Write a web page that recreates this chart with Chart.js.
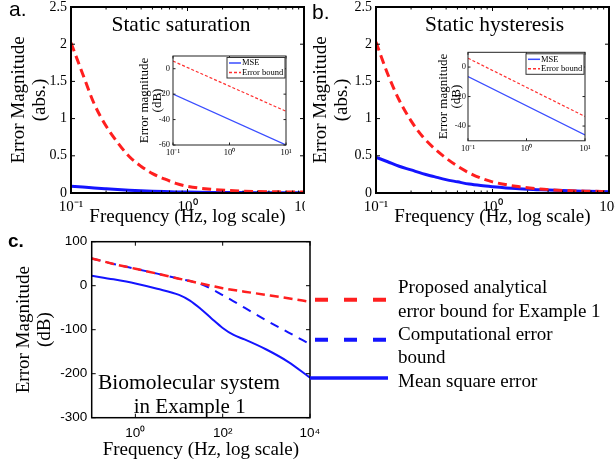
<!DOCTYPE html>
<html>
<head>
<meta charset="utf-8">
<script src="https://cdn.jsdelivr.net/npm/chart.js@4"></script>
<style>
body { margin: 0; background: #fff; }
#wrap { position: relative; width: 615px; height: 468px; overflow: hidden; background: #fff; }
canvas { position: absolute; }
</style>
</head>
<body>
<div id="wrap">
  <canvas id="cA" width="305" height="230" style="left:0;top:0"></canvas>
  <canvas id="cB" width="310" height="230" style="left:305px;top:0"></canvas>
  <canvas id="cAi" width="170" height="120" style="left:128px;top:48px"></canvas>
  <canvas id="cBi" width="175" height="120" style="left:422px;top:45px"></canvas>
  <canvas id="cC" width="615" height="243" style="left:0;top:225px"></canvas>
</div>
<script>
const SERIF = "'Liberation Serif', 'Times New Roman', serif";
const SANS = "'Liberation Sans', Arial, sans-serif";

// panels a & b : frequency (Hz) and error magnitude (abs.)
const freqAB = [0.1, 0.126, 0.158, 0.2, 0.251, 0.316, 0.398, 0.501, 0.631, 0.794, 1, 1.585, 2.512, 3.981, 6.31, 10];
const satBound = [2.02, 1.6, 1.2, 0.9, 0.68, 0.49, 0.36, 0.26, 0.19, 0.13, 0.09, 0.05, 0.03, 0.02, 0.015, 0.012];
const satMse = [0.09, 0.08, 0.068, 0.057, 0.047, 0.038, 0.03, 0.024, 0.019, 0.015, 0.012, 0.008, 0.006, 0.004, 0.003, 0.002];
const hysBound = [2.03, 1.6, 1.25, 0.97, 0.76, 0.6, 0.47, 0.36, 0.27, 0.2, 0.15, 0.09, 0.055, 0.035, 0.025, 0.018];
const hysMse = [0.48, 0.42, 0.36, 0.31, 0.26, 0.22, 0.18, 0.15, 0.12, 0.1, 0.085, 0.06, 0.045, 0.032, 0.024, 0.018];

// insets (dB)
const freqInset = [0.1, 10];
const satMseDb = [-20, -60];
const satBoundDb = [6, -33.5];
const hysMseDb = [-6.5, -46];
const hysBoundDb = [6, -33.5];

// panel c (dB)
const freqC = [0.1, 0.316, 1, 3.16, 10, 17.8, 31.6, 56.2, 100, 178, 316, 1000, 3162, 10000];
const analyticBoundC = [62, 49.5, 38.5, 27.4, 16, 10.5, 5, -0.5, -5.8, -9.7, -13.5, -21, -28.6, -36.5];
const compBoundC = [62, 49.5, 38.5, 27.4, 16, 10.5, 4, -7.5, -21.5, -35.5, -50, -79, -106, -133];
const mseC = [22.7, 14.5, 5, -7, -21, -34, -53, -75, -96, -112, -122, -145, -173, -209];

const legendC = ['Proposed analytical', 'error bound for Example 1', 'Computational error', 'bound', 'Mean square error'];
const expLabels = { 0.1: '10⁻¹', 1: '10⁰', 10: '10¹', 100: '10²', 10000: '10⁴' };

const RED = '#ff1f1f';
const BLUE = '#1414ff';

function pts(xs, ys) {
    return xs.map((x, i) => ({ x: x, y: ys[i] }));
}

// white plot area + matlab style box with inward ticks
function boxPlugin(o) {
    return {
        id: 'box',
        beforeDraw(chart) {
            const a = chart.chartArea, c = chart.ctx;
            c.save();
            c.fillStyle = '#fff';
            c.fillRect(a.left, a.top, a.right - a.left, a.bottom - a.top);
            c.restore();
        },
        afterDraw(chart) {
            const a = chart.chartArea, c = chart.ctx;
            const xs = chart.scales.x, ys = chart.scales.y;
            c.save();
            c.strokeStyle = o.color;
            c.lineWidth = 1;
            c.beginPath();
            ys.ticks.forEach(t => {
                const py = ys.getPixelForValue(t.value);
                c.moveTo(a.left, py); c.lineTo(a.left + o.tick, py);
                c.moveTo(a.right, py); c.lineTo(a.right - o.tick, py);
            });
            xs.ticks.forEach(t => {
                const px = xs.getPixelForValue(t.value);
                c.moveTo(px, a.bottom); c.lineTo(px, a.bottom - o.tick);
                c.moveTo(px, a.top); c.lineTo(px, a.top + o.tick);
            });
            if (o.minor) {
                for (let d = Math.log10(xs.min); d < Math.log10(xs.max); d++) {
                    for (let k = 2; k < 10; k++) {
                        const px = xs.getPixelForValue(k * Math.pow(10, d));
                        c.moveTo(px, a.bottom); c.lineTo(px, a.bottom - o.minor);
                        c.moveTo(px, a.top); c.lineTo(px, a.top + o.minor);
                    }
                }
            }
            c.stroke();
            c.lineWidth = o.width;
            c.strokeRect(a.left, a.top, a.right - a.left, a.bottom - a.top);
            c.restore();
        }
    };
}

function textPlugin(items) {
    return {
        id: 'texts',
        afterDraw(chart) {
            const c = chart.ctx;
            c.save();
            c.fillStyle = '#000';
            c.textBaseline = 'alphabetic';
            items.forEach(t => {
                c.font = t.font;
                c.textAlign = t.align || 'left';
                c.fillText(t.text, t.x, t.y);
            });
            c.restore();
        }
    };
}

const insetLegend = {
    id: 'insetLegend',
    afterDraw(chart) {
        const a = chart.chartArea, c = chart.ctx;
        const w = 58, h = 20.5, l = a.right - 1 - w, t = a.top + 1.5;
        c.save();
        c.fillStyle = '#fff';
        c.fillRect(l, t, w, h);
        c.strokeStyle = '#333';
        c.lineWidth = 1;
        c.strokeRect(l, t, w, h);
        c.font = '8.5px ' + SERIF;
        c.textBaseline = 'middle';
        chart.data.datasets.forEach((ds, i) => {
            const ry = t + 5.5 + i * 9.5;
            c.strokeStyle = ds.borderColor;
            c.lineWidth = 1.5;
            c.setLineDash(ds.borderDash || []);
            c.beginPath(); c.moveTo(l + 2, ry); c.lineTo(l + 14, ry); c.stroke();
            c.setLineDash([]);
            c.fillStyle = '#000';
            c.fillText(ds.label, l + 15, ry);
        });
        c.restore();
    }
};

// legend of panel c, drawn to the right of the plot
const legendCPlugin = {
    id: 'legendC',
    afterDraw(chart) {
        const a = chart.chartArea, c = chart.ctx, ys = chart.scales.y;
        const samples = [
            { v: -32, color: RED, dash: [13, 16], w: 4, x0: 5 },
            { v: -123, color: BLUE, dash: [13, 16], w: 4, x0: 5 },
            { v: -210, color: BLUE, dash: [], w: 3.5, x0: 0 }
        ];
        c.save();
        samples.forEach(s => {
            const py = ys.getPixelForValue(s.v);
            c.strokeStyle = s.color;
            c.lineWidth = s.w;
            c.setLineDash(s.dash);
            c.beginPath(); c.moveTo(a.right + s.x0, py); c.lineTo(a.right + 78, py); c.stroke();
        });
        c.setLineDash([]);
        c.fillStyle = '#000';
        c.font = '19px ' + SERIF;
        c.textBaseline = 'alphabetic';
        legendC.forEach((txt, i) => c.fillText(txt, a.right + 88, a.top + 51.6 + i * 23.3));
        c.restore();
    }
};

function logX(ticks, size, pad, height, title) {
    const x = {
        type: 'logarithmic',
        min: ticks.min, max: ticks.max,
        grid: { display: false, drawTicks: false },
        border: { display: false },
        afterBuildTicks: s => { s.ticks = ticks.at.map(v => ({ value: v })); },
        afterFit: s => { s.height = height; s.paddingLeft = 0; s.paddingRight = 0; },
        ticks: { font: { family: ticks.family, size: size }, color: '#000', padding: pad, maxRotation: 0, autoSkip: false, callback: v => expLabels[v] }
    };
    if (title) x.title = title;
    return x;
}

function mainChart(id, bound, mse, extra) {
    return new Chart(document.getElementById(id), {
        type: 'line',
        data: {
            datasets: [
                { label: 'Error bound', data: pts(freqAB, bound), borderColor: RED, borderWidth: 3, borderDash: [9, 5], pointRadius: 0, cubicInterpolationMode: 'monotone' },
                { label: 'MSE', data: pts(freqAB, mse), borderColor: BLUE, borderWidth: 3, pointRadius: 0, cubicInterpolationMode: 'monotone' }
            ]
        },
        options: {
            responsive: false, animation: false, devicePixelRatio: 1,
            layout: { padding: { left: 0, top: 7, right: extra.right, bottom: 0 } },
            plugins: { legend: { display: false }, tooltip: { enabled: false } },
            scales: {
                x: logX({ min: 0.1, max: 10, at: [0.1, 1, 10], family: SERIF }, 15, 5, 37,
                    { display: true, text: 'Frequency (Hz, log scale)', color: '#000', font: { family: SERIF, size: 19, lineHeight: 1.13 }, padding: { top: 0, bottom: 2.7 } }),
                y: {
                    min: 0, max: 2.5,
                    grid: { display: false, drawTicks: false },
                    border: { display: false },
                    afterFit: s => { s.width = 71; s.paddingTop = 0; s.paddingBottom = 0; },
                    ticks: { stepSize: 0.5, font: { family: SERIF, size: 14 }, color: '#000', padding: 4, callback: v => String(v) },
                    title: { display: true, text: ['Error Magnitude', '(abs.)'], color: '#000', font: { family: SERIF, size: 19, lineHeight: 1.13 }, padding: { top: extra.yPad, bottom: 0 } }
                }
            }
        },
        plugins: [boxPlugin({ color: '#000', tick: 4, minor: 2.5, width: 2 }), textPlugin(extra.texts)]
    });
}

function insetChart(id, mse, bound, extra) {
    return new Chart(document.getElementById(id), {
        type: 'line',
        data: {
            datasets: [
                { label: 'MSE', data: pts(freqInset, mse), borderColor: '#3a4dff', borderWidth: 1.2, pointRadius: 0 },
                { label: 'Error bound', data: pts(freqInset, bound), borderColor: '#ff3030', borderWidth: 1.2, borderDash: [3, 2], pointRadius: 0 }
            ]
        },
        options: {
            responsive: false, animation: false, devicePixelRatio: 1,
            layout: { padding: { left: 0, top: extra.top, right: 12, bottom: 0 } },
            plugins: { legend: { display: false }, tooltip: { enabled: false } },
            scales: {
                x: logX({ min: 0.1, max: 10, at: [0.1, 1, 10], family: SERIF }, 8.5, 3, extra.xh),
                y: {
                    min: extra.min, max: 10,
                    grid: { display: false, drawTicks: false },
                    border: { display: false },
                    afterBuildTicks: s => { s.ticks = extra.ticks.map(v => ({ value: v })); },
                    afterFit: s => { s.width = extra.yw; s.paddingTop = 0; s.paddingBottom = 0; },
                    ticks: { font: { family: SERIF, size: 8.5 }, color: '#111', padding: extra.tickPad },
                    title: { display: true, text: ['Error magnitude', '(dB)'], color: '#000', font: { family: SERIF, size: 13, lineHeight: 1 }, padding: { top: extra.yPad, bottom: 0 } }
                }
            }
        },
        plugins: [boxPlugin({ color: '#222', tick: 2.5, width: 1 }), insetLegend]
    });
}

mainChart('cA', satBound, satMse, {
    right: 1, yPad: 7.9,
    texts: [
        { text: 'a.', x: 9, y: 15.5, font: '21px ' + SANS },
        { text: 'Static saturation', x: 181, y: 31, font: '21.5px ' + SERIF, align: 'center' }
    ]
});

mainChart('cB', hysBound, hysMse, {
    right: 6, yPad: 5,
    texts: [
        { text: 'b.', x: 7, y: 19, font: '21px ' + SANS },
        { text: 'Static hysteresis', x: 189.5, y: 31, font: '21.5px ' + SERIF, align: 'center' }
    ]
});

insetChart('cAi', satMseDb, satBoundDb, { top: 8, xh: 23, yw: 45, min: -60, ticks: [-60, -40, -20, 0], tickPad: 3, yPad: 10 });
insetChart('cBi', hysMseDb, hysBoundDb, { top: 7.3, xh: 24.2, yw: 46, min: -50, ticks: [-40, -20, 0], tickPad: 2, yPad: 15.5 });

new Chart(document.getElementById('cC'), {
    type: 'line',
    data: {
        datasets: [
            { label: 'Proposed analytical error bound for Example 1', data: pts(freqC, analyticBoundC), borderColor: RED, borderWidth: 2.5, borderDash: [9, 5], pointRadius: 0, cubicInterpolationMode: 'monotone' },
            { label: 'Computational error bound', data: pts(freqC, compBoundC), borderColor: BLUE, borderWidth: 2, borderDash: [9, 7], pointRadius: 0, cubicInterpolationMode: 'monotone' },
            { label: 'Mean square error', data: pts(freqC, mseC), borderColor: BLUE, borderWidth: 2, pointRadius: 0, cubicInterpolationMode: 'monotone' }
        ]
    },
    options: {
        responsive: false, animation: false, devicePixelRatio: 1,
        layout: { padding: { left: 0, top: 16.7, right: 305, bottom: 0 } },
        plugins: { legend: { display: false }, tooltip: { enabled: false } },
        scales: {
            x: logX({ min: 0.1, max: 10000, at: [1, 100, 10000], family: SANS }, 13.5, 7, 50.3,
                { display: true, text: 'Frequency (Hz, log scale)', color: '#000', font: { family: SERIF, size: 19, lineHeight: 1.13 }, padding: { top: 0, bottom: 7 } }),
            y: {
                min: -300, max: 100,
                grid: { display: false, drawTicks: false },
                border: { display: false },
                afterFit: s => { s.width = 91.7; s.paddingTop = 0; s.paddingBottom = 0; },
                ticks: { stepSize: 100, font: { family: SANS, size: 13.5 }, color: '#000', padding: 4.4 },
                title: { display: true, text: ['Error Magnitude', '(dB)'], color: '#000', font: { family: SERIF, size: 19, lineHeight: 1.13 }, padding: { top: 12.9, bottom: 0 } }
            }
        }
    },
    plugins: [
        boxPlugin({ color: '#000', tick: 4, width: 1.5 }),
        legendCPlugin,
        textPlugin([
            { text: 'c.', x: 8, y: 21.7, font: 'bold 19px ' + SANS },
            { text: 'Biomolecular system', x: 189, y: 163.7, font: '21.5px ' + SERIF, align: 'center' },
            { text: 'in Example 1', x: 189.7, y: 188, font: '21px ' + SERIF, align: 'center' }
        ])
    ]
});
</script>
</body>
</html>
